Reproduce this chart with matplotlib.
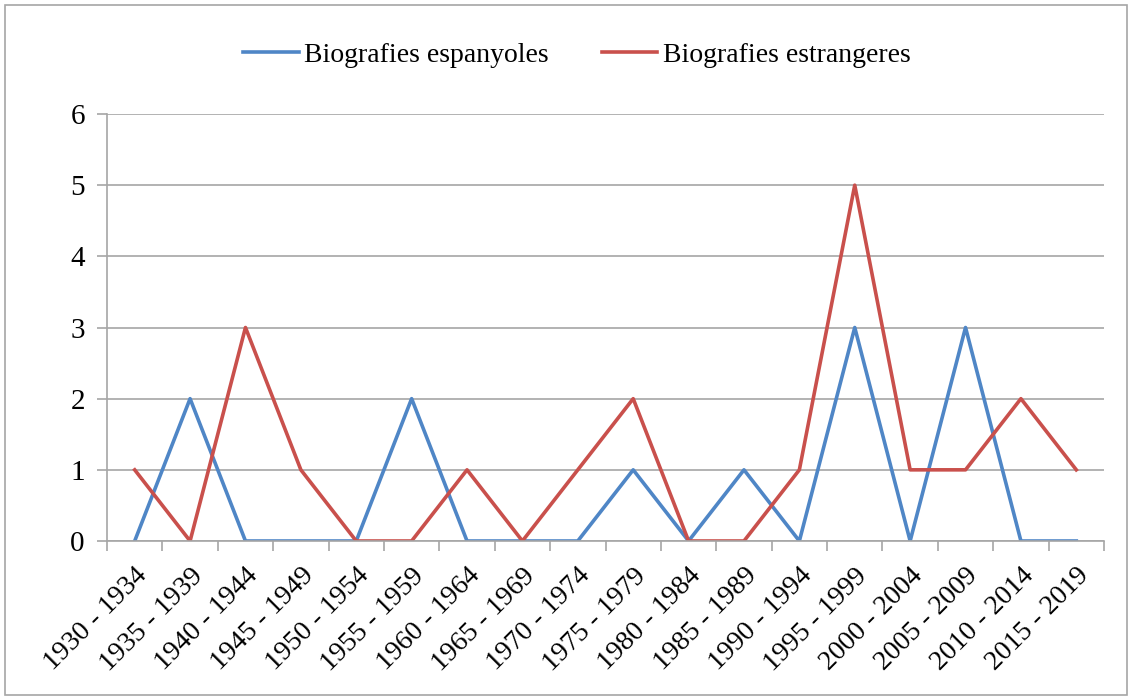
import matplotlib.pyplot as plt
from matplotlib.patches import Rectangle

plt.rcParams['font.family'] = ['Liberation Serif', 'DejaVu Serif']

# Data
periods = ['1930 - 1934', '1935 - 1939', '1940 - 1944', '1945 - 1949', '1950 - 1954',
           '1955 - 1959', '1960 - 1964', '1965 - 1969', '1970 - 1974', '1975 - 1979',
           '1980 - 1984', '1985 - 1989', '1990 - 1994', '1995 - 1999', '2000 - 2004',
           '2005 - 2009', '2010 - 2014', '2015 - 2019']
espanyoles = [0, 2, 0, 0, 0, 2, 0, 0, 0, 1, 0, 1, 0, 3, 0, 3, 0, 0]
estrangeres = [1, 0, 3, 1, 0, 0, 1, 0, 1, 2, 0, 0, 1, 5, 1, 1, 2, 1]

fig = plt.figure(figsize=(11.32, 6.98), dpi=100)
ax = fig.add_axes([107 / 1132, 1 - 541 / 698, 997 / 1132, 427 / 698])

# Outer chart border
fig.patches.append(Rectangle((5 / 1132, 3 / 698), 1122 / 1132, 690 / 698,
                             transform=fig.transFigure, fill=False,
                             edgecolor='#a6a6a6', linewidth=1.2))

x = range(len(periods))
ax.plot(x, espanyoles, color='#4f86c6', linewidth=2.6, label='Biografies espanyoles')
ax.plot(x, estrangeres, color='#c9504c', linewidth=2.6, label='Biografies estrangeres')

ax.set_xlim(-0.5, len(periods) - 0.5)
ax.set_ylim(0, 6)
ax.set_yticks(range(0, 7))
ax.yaxis.grid(True, color='#a6a6a6', linewidth=1.2)
ax.set_axisbelow(True)

# Category ticks at boundaries, labels at centers
ax.set_xticks([i - 0.5 for i in range(len(periods) + 1)])
ax.set_xticklabels([])
ax.set_xticks(list(x), minor=True)
ax.tick_params(axis='x', which='minor', length=0, pad=16, labelsize=20)
ax.set_xticklabels(periods, minor=True, rotation=45, ha='right', rotation_mode='anchor',
                   fontsize=20)
ax.tick_params(axis='x', which='major', length=7, width=1.2, color='#a6a6a6')
ax.tick_params(axis='y', length=7, width=1.2, color='#a6a6a6', labelsize=21, pad=9)

for s in ['top', 'right']:
    ax.spines[s].set_visible(False)
for s in ['left', 'bottom']:
    ax.spines[s].set_color('#a6a6a6')
    ax.spines[s].set_linewidth(1.2)

fig.legend(loc='center', bbox_to_anchor=(577 / 1132, 1 - 55 / 698), ncol=2, frameon=False,
           fontsize=20, handlelength=2.0, handletextpad=0.2, columnspacing=1.9)

fig.savefig('out.png', dpi=100)
